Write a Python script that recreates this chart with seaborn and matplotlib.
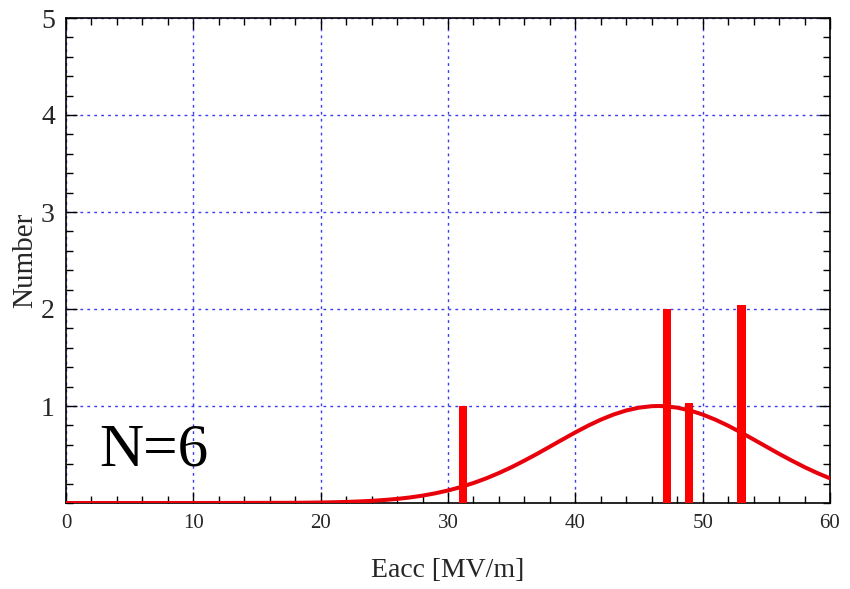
import numpy as np
import pandas as pd
import matplotlib
matplotlib.use("Agg")
import matplotlib.pyplot as plt
import seaborn as sns
from matplotlib.ticker import MultipleLocator, FixedLocator

# Data
bar_x = [31.15, 47.2, 48.95, 53.05]
bar_counts = [1.0, 2.0, 1.03, 2.04]

curve_x = [0, 10, 18, 20, 21, 22, 23, 24, 25, 26, 27, 28, 29, 30, 31, 32, 33,
           34, 35, 36, 37, 38, 39, 40, 41, 42, 43, 44, 45, 46, 46.5, 47, 48,
           49, 50, 51, 52, 53, 54, 55, 56, 57, 58, 59, 60]
curve_y = [0.0, 0.0, 0.002, 0.005, 0.0075, 0.011, 0.016, 0.022, 0.031, 0.042,
           0.057, 0.076, 0.100, 0.129, 0.164, 0.206, 0.254, 0.309, 0.370,
           0.437, 0.507, 0.581, 0.655, 0.728, 0.797, 0.859, 0.912, 0.954,
           0.983, 0.998, 1.0, 0.998, 0.983, 0.954, 0.912, 0.859, 0.797,
           0.728, 0.655, 0.581, 0.507, 0.437, 0.370, 0.309, 0.254]

y_ticks = [1, 2, 3, 4, 5]
x_ticks = [0, 10, 20, 30, 40, 50, 60]
annotation = "N=6"

sns.set_style("white")
plt.rcParams['font.family'] = ['Liberation Serif', 'DejaVu Serif']

fig = plt.figure(figsize=(8.5, 5.89), dpi=100)
ax = fig.add_axes([66/850, 1-503/589, (830-66)/850, (503-18)/589])

red = "#ff0000"
bars_df = pd.DataFrame({"x": bar_x, "n": bar_counts})
curve_df = pd.DataFrame({"x": curve_x, "y": curve_y})

sns.lineplot(data=curve_df, x="x", y="y", color="#e8000b", linewidth=2.9, ax=ax, zorder=3)
sns.barplot(data=bars_df, x="x", y="n", native_scale=True, width=0.36,
            color=red, saturation=1, ax=ax, zorder=4, errorbar=None, linewidth=0)

ax.set_xlim(0, 60)
ax.set_ylim(0, 5)
ax.xaxis.set_major_locator(FixedLocator(x_ticks))
ax.xaxis.set_minor_locator(MultipleLocator(2))
ax.yaxis.set_major_locator(FixedLocator(y_ticks))
ax.yaxis.set_minor_locator(MultipleLocator(0.2))
ax.set_xticklabels([str(t) for t in x_ticks], fontsize=15)
ax.set_yticklabels([str(t) for t in y_ticks], fontsize=20)

ax.tick_params(which="both", direction="in", top=True, right=True, bottom=True, left=True,
               color="black", width=1)
ax.tick_params(which="major", length=8, pad=8)
ax.tick_params(which="minor", length=5)

ax.grid(True, which="major", color="#3b3bf0", linestyle=(0, (2, 3)), linewidth=1)
ax.set_axisbelow(True)
for s in ax.spines.values():
    s.set_visible(True)
    s.set_color("black")
    s.set_linewidth(1.2)

ax.set_xlabel("Eacc [MV/m]", fontsize=20, labelpad=18)
ax.set_ylabel("Number", fontsize=21, labelpad=2)

ax.text(2.6, 0.39, annotation, fontsize=44, color="black", zorder=5)

fig.savefig("out.png", dpi=100)
